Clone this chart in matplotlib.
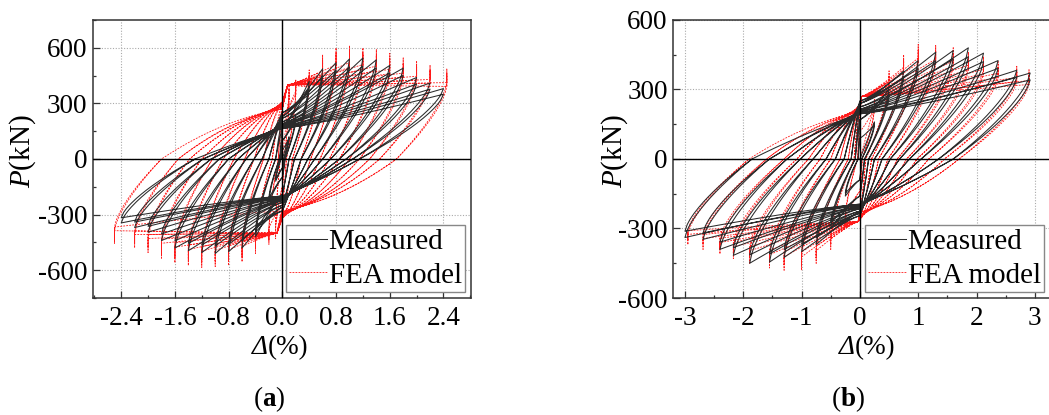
import numpy as np
import matplotlib
matplotlib.use("Agg")
import matplotlib.pyplot as plt
from matplotlib.lines import Line2D
from matplotlib.ticker import MultipleLocator, FormatStrFormatter

# ---------------- data ----------------
# Panel (a): peak drift (%) / peak load (kN) per loading level, residual drift at
# zero load after unloading, and load at zero drift while reloading
a_meas_pos_drift = [0.1, 0.2, 0.4, 0.6, 0.8, 1.0, 1.2, 1.4, 1.6, 1.8, 2.0, 2.2, 2.4]
a_meas_pos_load = [120, 230, 420, 487, 520, 540, 545, 535, 505, 490, 440, 410, 380]
a_meas_neg_drift = [-0.1, -0.2, -0.4, -0.6, -0.8, -1.0, -1.2, -1.4, -1.6, -1.8, -2.0, -2.2, -2.4]
a_meas_neg_load = [-120, -230, -420, -480, -500, -510, -505, -495, -480, -440, -395, -370, -345]
a_meas_res_pos = [0.02, 0.04, 0.10, 0.18, 0.28, 0.38, 0.48, 0.60, 0.72, 0.85, 0.95, 1.05, 1.15]
a_meas_res_neg = [-0.02, -0.04, -0.10, -0.20, -0.30, -0.42, -0.54, -0.66, -0.80, -0.94, -1.06, -1.18, -1.30]
a_meas_q_pos = [50, 100, 170, 230, 250, 220, 200, 190, 185, 180, 175, 170, 165]
a_meas_q_neg = [-50, -100, -190, -260, -280, -250, -235, -225, -220, -215, -210, -205, -200]

a_fea_pos_drift = [0.1, 0.2, 0.4, 0.6, 0.8, 1.0, 1.2, 1.4, 1.6, 1.8, 2.0, 2.2, 2.45]
a_fea_pos_load = [400, 430, 480, 560, 600, 612, 600, 590, 570, 545, 525, 505, 485]
a_fea_neg_drift = [-0.1, -0.2, -0.4, -0.6, -0.8, -1.0, -1.2, -1.4, -1.6, -1.8, -2.0, -2.2, -2.5]
a_fea_neg_load = [-430, -460, -510, -555, -575, -580, -585, -575, -560, -535, -505, -480, -455]
a_fea_res_pos = [0.03, 0.06, 0.15, 0.28, 0.42, 0.56, 0.70, 0.85, 1.00, 1.15, 1.30, 1.45, 1.70]
a_fea_res_neg = [-0.03, -0.06, -0.15, -0.28, -0.42, -0.56, -0.72, -0.88, -1.04, -1.20, -1.38, -1.55, -1.80]
a_fea_q_pos = [150, 230, 270, 300, 310, 305, 300, 295, 290, 285, 280, 275, 270]
a_fea_q_neg = [-150, -240, -280, -310, -320, -315, -310, -305, -300, -295, -290, -285, -280]
a_fea_kick = [0.08, 400]

# Panel (b)
b_meas_pos_drift = [0.25, 0.5, 0.75, 1.0, 1.3, 1.6, 1.86, 2.12, 2.37, 2.69, 2.92]
b_meas_pos_load = [160, 300, 380, 425, 461, 468, 480, 457, 425, 383, 371]
b_meas_neg_drift = [-0.25, -0.5, -0.75, -1.0, -1.3, -1.55, -1.89, -2.17, -2.4, -2.69, -3.0]
b_meas_neg_load = [-160, -300, -370, -400, -425, -445, -450, -416, -390, -347, -339]
b_meas_res_pos = [0.03, 0.08, 0.15, 0.25, 0.38, 0.52, 0.68, 0.85, 1.05, 1.35, 1.60]
b_meas_res_neg = [-0.03, -0.08, -0.15, -0.27, -0.42, -0.58, -0.80, -1.02, -1.25, -1.55, -1.85]
b_meas_q_pos = [90, 170, 240, 250, 240, 225, 215, 210, 205, 200, 195]
b_meas_q_neg = [-90, -160, -230, -245, -235, -225, -215, -210, -205, -200, -195]

b_fea_pos_drift = [0.25, 0.5, 0.75, 1.0, 1.3, 1.6, 1.86, 2.12, 2.37, 2.69, 2.9]
b_fea_pos_load = [260, 380, 450, 495, 490, 480, 460, 440, 420, 400, 385]
b_fea_neg_drift = [-0.25, -0.5, -0.75, -1.0, -1.3, -1.55, -1.89, -2.17, -2.4, -2.69, -2.95]
b_fea_neg_load = [-290, -390, -450, -480, -480, -470, -450, -430, -410, -390, -370]
b_fea_res_pos = [0.04, 0.10, 0.20, 0.32, 0.48, 0.64, 0.80, 0.98, 1.18, 1.45, 1.70]
b_fea_res_neg = [-0.04, -0.10, -0.20, -0.34, -0.50, -0.68, -0.88, -1.08, -1.30, -1.60, -1.90]
b_fea_q_pos = [120, 200, 230, 240, 235, 230, 225, 220, 215, 210, 205]
b_fea_q_neg = [-140, -220, -255, -265, -260, -255, -250, -245, -240, -235, -230]
b_fea_kick = [0.03, 270]

second_cycle_ratio = {"meas": 0.92, "fea": 0.95}

a_xticks = [-2.4, -1.6, -0.8, 0.0, 0.8, 1.6, 2.4]
b_xticks = [-3, -2, -1, 0, 1, 2, 3]
a_yticks = [-600, -300, 0, 300, 600]
b_yticks = [-600, -300, 0, 300, 600]

# ---------------- style ----------------
plt.rcParams["font.family"] = ["Liberation Serif", "DejaVu Serif"]
plt.rcParams["mathtext.fontset"] = "custom"
plt.rcParams["mathtext.rm"] = "Liberation Serif"
plt.rcParams["mathtext.it"] = "Liberation Serif:italic"
plt.rcParams["mathtext.bf"] = "Liberation Serif:bold"
plt.rcParams["axes.unicode_minus"] = False

T = np.linspace(0, 1, 30)[1:]


def build_path(pd, pl, nd, nl, rp, rn, qp, qn, kick, spike, bow, ratio):
    xs, ys = [0.0], [0.0]
    prev_r = None

    def go(d, P, r_from, q, sgn):
        x0, y0 = xs[-1], ys[-1]
        Pt = P * (1 - spike)
        if r_from is None:
            xs.extend(x0 + (d - x0) * T)
            ys.extend(y0 + (Pt - y0) * T)
        else:
            qq = sgn * min(abs(q), 0.8 * abs(P))
            xs.extend(r_from * (1 - T))
            ys.extend(qq * T * ((1 + bow) - bow * T))
            x0, y0 = 0.0, qq
            if kick is not None and kick[1] < 0.9 * abs(P) and kick[0] < abs(d):
                x0, y0 = sgn * kick[0], sgn * kick[1]
                xs.append(x0)
                ys.append(y0)
            xs.extend(x0 + (d - x0) * T)
            ys.extend(y0 + (Pt - y0) * T ** 1.2)
        if spike:
            xs.extend([d, d])
            ys.extend([P, Pt])

    def unload(d, Pt, r):
        xs.extend(d + (r - d) * T)
        ys.extend(Pt * (1 - T ** 0.7))

    for i in range(len(pd)):
        for rep in range(2):
            f = 1.0 if rep == 0 else ratio
            go(pd[i], pl[i] * f, prev_r, qp[i], 1)
            unload(pd[i], ys[-1], rp[i])
            go(nd[i], nl[i] * f, rp[i], qn[i], -1)
            unload(nd[i], ys[-1], rn[i])
            prev_r = rn[i]
    return np.array(xs), np.array(ys)


W, H = 1049, 415
fig = plt.figure(figsize=(W / 100, H / 100), dpi=100)

ax_a = fig.add_axes([93 / W, (H - 298) / H, 378 / W, 278 / H])
ax_b = fig.add_axes([673.3 / W, (H - 298) / H, (1050 - 673.3) / W, 278 / H])

meas_style = dict(color="#2b2b2b", lw=0.75, solid_joinstyle="round")
fea_style = dict(color="#ff1a1a", lw=0.6, linestyle=(0, (2.2, 1.4)))

panels = [
    (ax_a,
     (a_meas_pos_drift, a_meas_pos_load, a_meas_neg_drift, a_meas_neg_load,
      a_meas_res_pos, a_meas_res_neg, a_meas_q_pos, a_meas_q_neg, None, 0.0, 0.15),
     (a_fea_pos_drift, a_fea_pos_load, a_fea_neg_drift, a_fea_neg_load,
      a_fea_res_pos, a_fea_res_neg, a_fea_q_pos, a_fea_q_neg, a_fea_kick, 0.15, 0.6),
     (-2.82, 2.81), (-750, 750), a_xticks, 0.4, a_yticks, 150, "%.1f"),
    (ax_b,
     (b_meas_pos_drift, b_meas_pos_load, b_meas_neg_drift, b_meas_neg_load,
      b_meas_res_pos, b_meas_res_neg, b_meas_q_pos, b_meas_q_neg, None, 0.0, 0.2),
     (b_fea_pos_drift, b_fea_pos_load, b_fea_neg_drift, b_fea_neg_load,
      b_fea_res_pos, b_fea_res_neg, b_fea_q_pos, b_fea_q_neg, b_fea_kick, 0.12, 0.5),
     (-3.2, 3.26), (-600, 600), b_xticks, 0.5, b_yticks, 150, "%d"),
]

for ax, meas, fea, xl, yl, xt, xminor, yt, yminor, fmt in panels:
    fx, fy = build_path(*fea, second_cycle_ratio["fea"])
    mx, my = build_path(*meas, second_cycle_ratio["meas"])
    ax.plot(fx, fy, **fea_style, zorder=2)
    ax.plot(mx, my, **meas_style, zorder=3)
    ax.axhline(0, color="black", lw=1.0, zorder=4)
    ax.axvline(0, color="black", lw=1.0, zorder=4)
    ax.set_xlim(*xl)
    ax.set_ylim(*yl)
    ax.set_xticks(xt)
    ax.set_yticks(yt)
    ax.xaxis.set_minor_locator(MultipleLocator(xminor))
    ax.yaxis.set_minor_locator(MultipleLocator(yminor))
    ax.xaxis.set_major_formatter(FormatStrFormatter(fmt))
    ax.grid(True, which="major", color="#aaaaaa", lw=0.8, linestyle=(0, (1, 1.5)), zorder=1)
    ax.tick_params(which="both", direction="in", labelsize=19.5, color="#333333")
    ax.tick_params(which="major", length=5, width=0.9)
    ax.tick_params(which="minor", length=2.5, width=0.9)
    ax.tick_params(axis="x", pad=6)
    ax.tick_params(axis="y", pad=4)
    for s in ax.spines.values():
        s.set_color("#333333")
        s.set_linewidth(1.1)
    ax.set_ylabel(r"$\mathit{P}$(kN)", fontsize=21)
    handles = [Line2D([], [], **meas_style), Line2D([], [], **fea_style)]
    leg = ax.legend(handles, ["Measured", "FEA model"], loc="lower right",
                    bbox_to_anchor=(1.0, 0.0), borderaxespad=0.2, fontsize=21,
                    fancybox=False, framealpha=1.0, edgecolor="#888888",
                    handlelength=1.3, handletextpad=0.05, labelspacing=0.25,
                    borderpad=0.12)
    leg.get_frame().set_linewidth(1.0)
    leg.set_zorder(6)

ax_a.yaxis.set_label_coords((38 - 93) / 378, 0.53)
ax_b.yaxis.set_label_coords((630 - 673.3) / 376.7, 0.53)

# x-axis labels: italic Delta followed by upright "(%)"
for xc in (268, 855):
    fig.text(xc / W, (H - 335) / H, "Δ", fontsize=19.5, fontstyle="italic",
             ha="right", va="top")
    fig.text(xc / W, (H - 335) / H, "(%)", fontsize=19.5, ha="left", va="top")

fig.text(269 / W, (H - 399) / H, r"($\mathbf{a}$)", fontsize=19.5, ha="center", va="center")
fig.text(848 / W, (H - 399) / H, r"($\mathbf{b}$)", fontsize=19.5, ha="center", va="center")

fig.savefig("out.png", dpi=100)
